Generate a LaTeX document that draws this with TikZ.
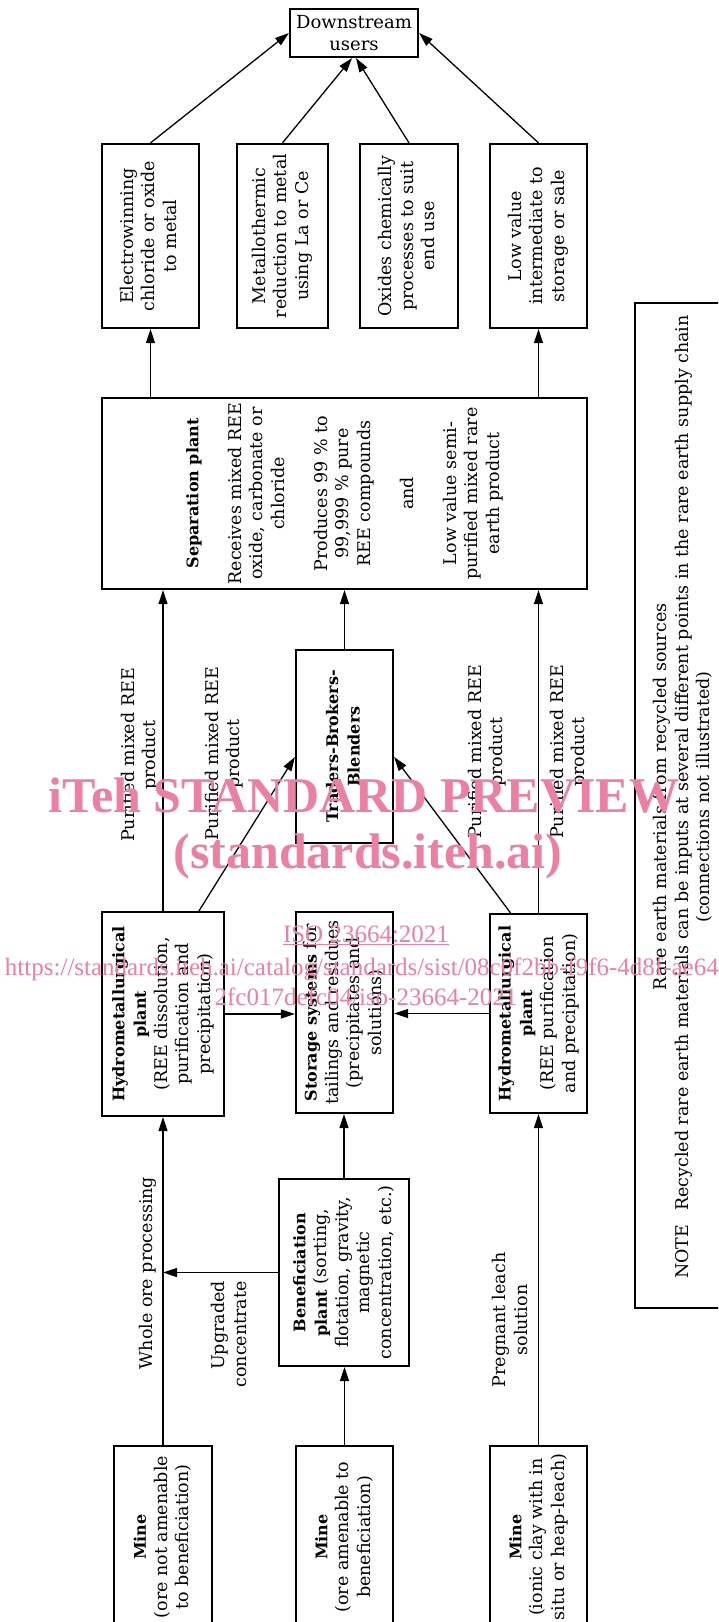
\documentclass[tikz,border=0pt]{standalone}
\usepackage{fontspec}
\setmainfont{DejaVu Serif}
\newfontfamily\wmfont{Liberation Serif}
\usepackage{graphicx}
\usetikzlibrary{arrows.meta,calc}
\definecolor{wmpink}{RGB}{236,128,162}
\newcommand\rtxt[1]{\rotatebox{90}{\begin{tabular}{@{}c@{}}#1\end{tabular}}}
\newcommand\bfx[1]{{\fontsize{16}{21.5}\selectfont\bfseries #1}}
\begin{document}
\begin{tikzpicture}[x=1pt,y=-1pt,
  every node/.style={font=\fontsize{17.5}{21.5}\selectfont},
  boxst/.style={draw, line width=2.2pt, inner sep=0pt},
  arr/.style={line width=1.3pt, -{Triangle[length=14pt,width=9pt]}},
  lbl/.style={rotate=90, inner sep=0pt, align=center},
  wm/.style={text=wmpink, inner sep=0pt, anchor=base, font=\wmfont\fontsize{25}{30}\selectfont}]
\fill[white] (0,0) rectangle (718,1622);
\clip (0,0) rectangle (718,1622);

% top
\node[boxst, minimum width=128pt, minimum height=48pt, align=center, font=\fontsize{18}{22}\selectfont] (ds) at (354,33) {Downstream\\users};
\node[boxst, minimum width=97pt, minimum height=184pt] (ew) at (150.5,236) {\rtxt{Electrowinning\\chloride or oxide\\to metal}};
\node[boxst, minimum width=91pt, minimum height=184pt] (meta) at (282.5,236) {\rtxt{Metallothermic\\reduction to metal\\using La or Ce}};
\node[boxst, minimum width=98pt, minimum height=184pt] (ox) at (409,236) {\rtxt{Oxides chemically\\processes to suit\\end use}};
\node[boxst, minimum width=97pt, minimum height=184pt] (low) at (538.5,236) {\rtxt{Low value\\intermediate to\\storage or sale}};

% separation
\node[boxst, minimum width=485pt, minimum height=191pt] (sep) at (344.5,493.5) {\rtxt{\bfx{Separation plant}\\ \\Receives mixed REE\\oxide, carbonate or\\chloride\\ \\Produces 99~\% to\\99,999~\% pure\\REE compounds\\ \\and\\ \\Low value semi-\\purified mixed rare\\earth product}};

% middle
\node[boxst, minimum width=97pt, minimum height=193pt] (tr) at (344.5,746.5) {\rtxt{\bfx{Traders-Brokers-}\\\bfx{Blenders}}};
\node[boxst, minimum width=122pt, minimum height=204pt] (hl) at (163,1014) {\rtxt{\bfx{Hydrometallurgical}\\\bfx{plant}\\(REE dissolution,\\purification and\\precipitation)}};
\node[boxst, minimum width=97pt, minimum height=201pt] (st) at (344.5,1012.5) {\rtxt{\bfx{Storage systems} for\\tailings and residues\\(precipitates and\\solutions)}};
\node[boxst, minimum width=97pt, minimum height=199pt] (hr) at (538.5,1013.5) {\rtxt{\bfx{Hydrometallurgical}\\\bfx{plant}\\(REE purification\\and precipitation)}};
\node[boxst, minimum width=130pt, minimum height=187pt] (bn) at (344,1272.5) {\rtxt{\bfx{Beneficiation}\\\bfx{plant} (sorting,\\flotation, gravity,\\magnetic\\concentration, etc.)}};

% mines
\node[boxst, minimum width=98pt, minimum height=182pt] (m1) at (163,1537) {\rtxt{\bfx{Mine}\\(ore not amenable\\to beneficiation)}};
\node[boxst, minimum width=97pt, minimum height=182pt] (m2) at (344.5,1537) {\rtxt{\bfx{Mine}\\(ore amenable to\\beneficiation)}};
\node[boxst, minimum width=97pt, minimum height=182pt] (m3) at (538.5,1537) {\rtxt{\bfx{Mine}\\(ionic clay with in\\situ or heap-leach)}};

% note
\node[boxst, minimum width=96pt, minimum height=1005pt] (notebox) at (683,805.5) {};
\node[lbl] (notetext) at (683,797) {Rare earth materials from recycled sources\\NOTE\hspace{0.8em}Recycled rare earth materials can be inputs at several different points in the rare earth supply chain\\(connections not illustrated)};

% connectors top
\draw[arr] (sep.north -| ew.south) -- (ew.south);
\draw[arr] (sep.north -| low.south) -- (low.south);
\draw[arr] (ew.north) -- (ds.west);
\draw[arr] (meta.north) -- ([xshift=-2pt]ds.south);
\draw[arr] (ox.north) -- ([xshift=2pt]ds.south);
\draw[arr] (low.north) -- (ds.east);

% middle connectors
\draw[arr] (hl.north) -- (hl.north |- sep.south);
\draw[arr] ([xshift=36pt]hl.north) -- ([yshift=-10.5pt]tr.west);
\draw[arr] ([xshift=-28pt]hr.north) -- ([yshift=-10.5pt]tr.east);
\draw[arr] (hr.north) -- (hr.north |- sep.south);
\draw[arr] (tr.north) -- (tr.north |- sep.south);
\draw[arr] (hl.east) -- (hl.east -| st.west);
\draw[arr] (hr.west) -- (hr.west -| st.east);
\draw[arr] (bn.north) -- (bn.north |- st.south);
\draw[arr] (bn.west) -- (bn.west -| hl.south);
\draw[arr] (m1.north) -- (hl.south);
\draw[arr] (m2.north) -- (m2.north |- bn.south);
\draw[arr] (m3.north) -- (hr.south);

% labels
\node[lbl] (lp1) at (140,755) {Purified mixed REE\\product};
\node[lbl] (lp2) at (224,754) {Purified mixed REE\\product};
\node[lbl] (lp3) at (487,752) {Purified mixed REE\\product};
\node[lbl] (lp4) at (569,752) {Purified mixed REE\\product};
\node[lbl] (lwo) at (148,1273) {Whole ore processing};
\node[lbl, align=right, anchor=east] (luc) at (229,1281) {Upgraded\\concentrate};
\node[lbl] (lpl) at (510,1320) {Pregnant leach\\solution};

% watermark
\node[wm, font=\wmfont\bfseries\fontsize{50}{56}\selectfont] (wm1) at (364,812) {iTeh STANDARD PREVIEW};
\node[wm, font=\wmfont\bfseries\fontsize{50}{56}\selectfont] (wm2) at (368,868) {(standards.iteh.ai)};
\node[wm] (wm3) at (366,942) {\underline{ISO 23664:2021}};
\node[wm] (wm4) at (366,975) {https://standards.iteh.ai/catalog/standards/sist/08c0f2bb-f9f6-4d8f-ae64-};
\node[wm] (wm5) at (366,1005) {2fc017defc04/iso-23664-2021};
\end{tikzpicture}
\end{document}
